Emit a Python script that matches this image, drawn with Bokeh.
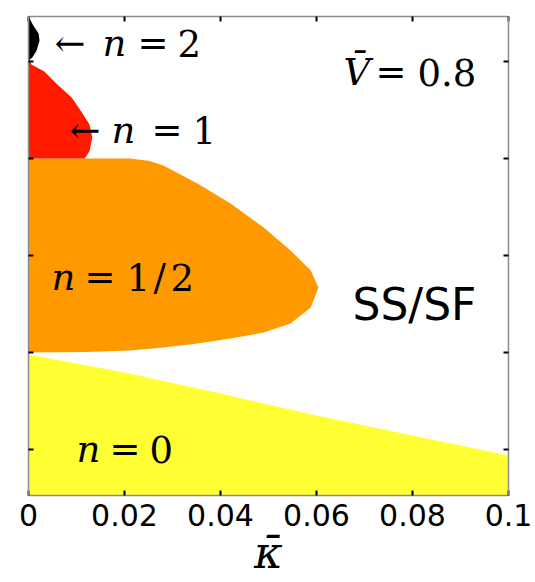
from bokeh.plotting import figure
from bokeh.models import Range1d, LinearAxis, FixedTicker, Label
from bokeh.embed import file_html
from bokeh.resources import INLINE

# ---- axes data ----
kappa_ticks = [0, 0.02, 0.04, 0.06, 0.08, 0.1]
kappa_tick_labels = ["0", "0.02", "0.04", "0.06", "0.08", "0.1"]
mu_ticks = [0.0, 0.5, 1.0, 1.5, 2.0]
kappa_min, kappa_max = 0.0, 0.1
mu_min, mu_max = -0.237, 2.232

# ---- phase boundaries ----
# n = 0 (yellow): upper boundary
n0_kappa = [0.0, 0.02, 0.04, 0.06, 0.08, 0.1]
n0_mu_upper = [0.49, 0.397, 0.289, 0.175, 0.072, -0.031]

# n = 1/2 (orange): upper and lower boundaries
nhalf_kappa_upper = [0.0, 0.0212, 0.0250, 0.0281, 0.0352, 0.0421, 0.0490, 0.0546, 0.0588, 0.0604]
nhalf_mu_upper = [1.5, 1.5, 1.488, 1.464, 1.371, 1.268, 1.144, 1.026, 0.923, 0.835]
nhalf_kappa_lower = [0.0, 0.0120, 0.0212, 0.0281, 0.0352, 0.0421, 0.0490, 0.0546, 0.0588]
nhalf_mu_lower = [0.5, 0.503, 0.510, 0.526, 0.546, 0.572, 0.603, 0.649, 0.732]

# n = 1 (red) lobe
n1_kappa = [0.0, 0.0006, 0.0033, 0.0060, 0.0090, 0.0110, 0.0127, 0.0133, 0.0127, 0.0117, 0.0]
n1_mu = [2.03, 1.985, 1.948, 1.881, 1.814, 1.742, 1.675, 1.608, 1.536, 1.5, 1.5]

# n = 2 (black) lobe
n2_kappa = [0.0, 0.0010, 0.0021, 0.0023, 0.0017, 0.0008, 0.0]
n2_mu = [2.232, 2.186, 2.144, 2.108, 2.057, 2.021, 2.005]

# colours
c_n0 = "#ffff33"
c_nhalf = "#ff9900"
c_n1 = "#ff1a00"
c_n2 = "#000000"
frame_col = "#8c8c8c"

p = figure(width=535, height=582,
           x_range=Range1d(kappa_min, kappa_max),
           y_range=Range1d(mu_min, mu_max),
           output_backend="svg", toolbar_location=None,
           min_border_left=28, min_border_right=27,
           min_border_top=16, min_border_bottom=87)
p.xgrid.visible = False
p.ygrid.visible = False
p.outline_line_color = frame_col
p.background_fill_color = "white"

# regions
p.patch(n0_kappa + [kappa_max, kappa_min],
        n0_mu_upper + [mu_min, mu_min],
        fill_color=c_n0, line_color=None)
p.patch(nhalf_kappa_upper + nhalf_kappa_lower[::-1],
        nhalf_mu_upper + nhalf_mu_lower[::-1],
        fill_color=c_nhalf, line_color=None)
p.patch(n1_kappa, n1_mu, fill_color=c_n1, line_color=None)
p.patch(n2_kappa, n2_mu, fill_color=c_n2, line_color=None)

def style_axis(ax, labels=True):
    ax.axis_line_color = frame_col
    ax.axis_line_width = 1.5
    ax.major_tick_line_color = "black"
    ax.major_tick_line_width = 2
    ax.major_tick_in = 5
    ax.major_tick_out = 0
    ax.minor_tick_line_color = None
    if not labels:
        ax.major_label_text_color = None
        ax.major_label_text_font_size = "1px"
        ax.major_label_standoff = 0

# bottom axis
xa = p.xaxis[0]
xa.ticker = FixedTicker(ticks=kappa_ticks)
xa.major_label_overrides = dict(zip(kappa_ticks, kappa_tick_labels))
style_axis(xa)
xa.major_label_text_font = "DejaVu Sans"
xa.major_label_text_font_size = "30px"
xa.major_label_text_color = "black"
xa.major_label_standoff = 8
xa.axis_label = "\u03ba\u0304"
xa.axis_label_text_font = "DejaVu Serif"
xa.axis_label_text_font_style = "italic"
xa.axis_label_text_font_size = "44px"
xa.axis_label_text_line_height = 0.8
xa.axis_label_text_color = "black"
xa.axis_label_standoff = -2

# left axis
ya = p.yaxis[0]
ya.ticker = FixedTicker(ticks=mu_ticks)
style_axis(ya, labels=False)

# mirrored axes
top = LinearAxis(ticker=FixedTicker(ticks=kappa_ticks))
style_axis(top, labels=False)
p.add_layout(top, "above")
right = LinearAxis(ticker=FixedTicker(ticks=mu_ticks))
style_axis(right, labels=False)
p.add_layout(right, "right")

# ---- text labels (math-style: italic symbol + upright rest) ----
SERIF = "DejaVu Serif"
FS = "37px"

def math_label(x, y, parts):
    for txt, italic, dx in parts:
        p.add_layout(Label(x=x, y=y, x_offset=dx, text=txt,
                           text_font=SERIF, text_font_size=FS,
                           text_font_style="italic" if italic else "normal",
                           text_color="black", text_align="left",
                           text_baseline="middle"))

math_label(0.0054, 2.093, [("\u2190", False, 0), ("n", True, 48), ("=", False, 83), ("2", False, 123)])
math_label(0.00854, 1.644, [("\u2190", False, 0), ("n", True, 42), ("=", False, 82), ("1", False, 123)])
math_label(0.00479, 0.887, [("n", True, 0), ("=", False, 33), ("1", False, 75), ("/", False, 102), ("2", False, 119)])
math_label(0.0100, 0.0, [("n", True, 0), ("=", False, 33), ("0", False, 73)])
math_label(0.0656, 1.943, [("V\u0304", True, 0), ("=", False, 32), ("0.8", False, 74)])

p.add_layout(Label(x=0.0804, y=0.747, text="SS/SF", text_font="DejaVu Sans",
                   text_font_size="44px", text_color="black",
                   text_align="center", text_baseline="middle"))

open("out.html", "w").write(file_html(p, INLINE))
